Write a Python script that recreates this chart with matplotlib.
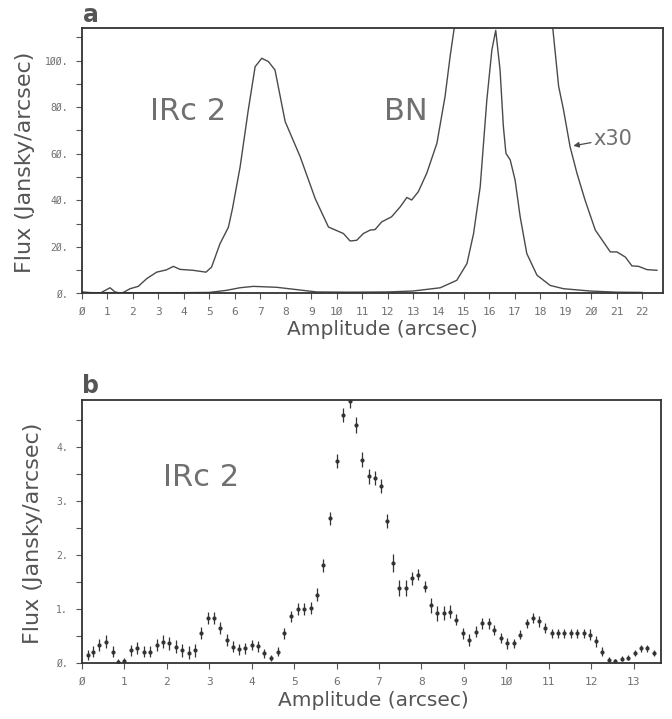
import matplotlib.pyplot as plt
import numpy as np

# panel a: x30 curve (IRc 2 scaled), breaks where it runs off the top
xa_scaled = [0.0, 0.7, 1.1, 1.3, 1.56, 1.89, 2.21, 2.54, 2.93, 3.32, 3.59, 3.85, 4.37, 4.87,
             5.09, 5.42, 5.75, 5.91, 6.21, 6.53, 6.80, 7.06, 7.32, 7.58, 7.98, 8.57, 9.16,
             9.68, 10.27, 10.53, 10.79, 11.05, 11.32, 11.51, 11.77, 12.16, 12.50, 12.76,
             12.95, 13.21, 13.54, 13.94, 14.26, 14.46, 14.62, 14.70,
             np.nan,
             18.42, 18.49, 18.72, 18.91, 19.17, 19.44, 19.76, 20.16, 20.75, 21.01, 21.34,
             21.60, 21.86, 22.19, 22.58]
ya_scaled = [0.6, 0.0, 2.4, 0.6, 0.0, 2.0, 3.0, 6.3, 9.1, 10.1, 11.6, 10.3, 9.9, 9.1,
             11.3, 21.3, 28.4, 36.4, 54.3, 78.7, 97.4, 101.0, 99.6, 96.0, 73.8, 58.7, 40.7,
             28.5, 25.7, 22.5, 22.8, 25.7, 27.2, 27.4, 30.7, 32.9, 37.2, 41.2,
             40.1, 43.7, 51.6, 64.5, 84.6, 101.9, 114.0, 120.0,
             np.nan,
             120.0, 114.0, 89.0, 79.0, 63.0, 51.6, 40.0, 27.2, 17.8, 17.8, 15.6,
             11.8, 11.6, 10.2, 9.9]

# panel a: unscaled curve (BN peak)
xa_raw = [0.0, 2.0, 4.0, 5.0, 5.68, 6.2, 6.73, 7.65, 8.2, 9.22, 10.5, 12.0, 13.0, 14.07,
          14.72, 15.12, 15.38, 15.64, 15.90, 16.10, 16.25, 16.42, 16.55, 16.65, 16.82,
          17.01, 17.21, 17.47, 17.87, 18.39, 18.91, 19.96, 21.0, 22.0]
ya_raw = [0.3, 0.3, 0.3, 0.4, 1.3, 2.4, 3.0, 2.6, 1.9, 0.6, 0.5, 0.6, 1.0, 2.4,
          5.6, 12.8, 25.7, 45.8, 83.0, 104.7, 113.0, 96.0, 71.7, 60.2, 57.3,
          48.7, 32.9, 17.1, 7.8, 3.4, 2.0, 1.0, 0.5, 0.4]

# panel b: IRc 2 profile with errors
xb = [0.13, 0.27, 0.41, 0.57, 0.72, 0.86, 0.99, 1.16, 1.30, 1.46, 1.60, 1.76, 1.90, 2.06,
      2.22, 2.36, 2.52, 2.66, 2.81, 2.96, 3.11, 3.25, 3.41, 3.55, 3.70, 3.85, 4.00, 4.14,
      4.29, 4.45, 4.62, 4.76, 4.93, 5.09, 5.24, 5.39, 5.53, 5.69, 5.85, 6.00, 6.16, 6.32,
      6.46, 6.61, 6.76, 6.90, 7.05, 7.19, 7.33, 7.48, 7.63, 7.78, 7.92, 8.08, 8.22, 8.37,
      8.52, 8.67, 8.82, 8.97, 9.12, 9.28, 9.43, 9.58, 9.72, 9.87, 10.02, 10.17, 10.32,
      10.48, 10.63, 10.78, 10.92, 11.07, 11.22, 11.37, 11.52, 11.67, 11.82, 11.96, 12.12,
      12.26, 12.42, 12.57, 12.72, 12.87, 13.02, 13.17, 13.32, 13.47]
yb = [0.15, 0.21, 0.33, 0.39, 0.21, 0.02, 0.03, 0.23, 0.27, 0.21, 0.21, 0.33, 0.39, 0.36,
      0.30, 0.23, 0.19, 0.23, 0.55, 0.83, 0.83, 0.64, 0.43, 0.30, 0.25, 0.27, 0.33, 0.31,
      0.18, 0.09, 0.21, 0.55, 0.86, 0.99, 0.99, 1.01, 1.26, 1.81, 2.68, 3.73, 4.59, 4.84,
      4.41, 3.76, 3.45, 3.42, 3.27, 2.62, 1.85, 1.38, 1.38, 1.57, 1.63, 1.41, 1.07, 0.92,
      0.92, 0.95, 0.80, 0.55, 0.43, 0.58, 0.73, 0.73, 0.61, 0.46, 0.36, 0.36, 0.52,
      0.73, 0.83, 0.77, 0.64, 0.55, 0.55, 0.55, 0.55, 0.55, 0.55, 0.52, 0.40,
      0.21, 0.06, 0.04, 0.08, 0.10, 0.18, 0.27, 0.27, 0.18]
eb = [0.09, 0.10, 0.11, 0.12, 0.10, 0.06, 0.06, 0.10, 0.11, 0.10, 0.10, 0.11, 0.12, 0.12,
      0.12, 0.12, 0.12, 0.12, 0.11, 0.11, 0.11, 0.11, 0.11, 0.10, 0.10, 0.10, 0.10, 0.10,
      0.08, 0.06, 0.09, 0.10, 0.11, 0.11, 0.11, 0.11, 0.12, 0.12, 0.12, 0.13, 0.13, 0.12,
      0.15, 0.14, 0.13, 0.13, 0.13, 0.13, 0.16, 0.15, 0.15, 0.12, 0.10, 0.10, 0.14, 0.14,
      0.13, 0.12, 0.10, 0.10, 0.11, 0.10, 0.10, 0.10, 0.10, 0.10, 0.10, 0.09, 0.08,
      0.09, 0.10, 0.10, 0.09, 0.08, 0.08, 0.08, 0.08, 0.08, 0.08, 0.10, 0.10,
      0.09, 0.05, 0.04, 0.05, 0.05, 0.05, 0.07, 0.07, 0.05]

a_yticks = [0, 20, 40, 60, 80, 100]
a_ylabels = ['Ø.', '2Ø.', '4Ø.', '6Ø.', '8Ø.', '1ØØ.']
a_xticks = list(range(0, 23))
a_xlabels = [str(i).replace('0', 'Ø') for i in a_xticks]
b_yticks = [0, 1, 2, 3, 4]
b_ylabels = ['Ø.', '1.', '2.', '3.', '4.']
b_xticks = list(range(0, 14))
b_xlabels = [str(i).replace('0', 'Ø') for i in b_xticks]

ink = '#4a4a4a'
txt = '#707070'

fig = plt.figure(figsize=(6.72, 7.19), dpi=100)
ax1 = fig.add_axes([0.122, 0.592, 0.865, 0.369])
ax2 = fig.add_axes([0.122, 0.078, 0.862, 0.366])

def style(ax, xticks, xlabels, yticks, ylabels, yminor):
    for s in ax.spines.values():
        s.set_color('#333333')
        s.set_linewidth(1.3)
    ax.set_xticks(xticks)
    ax.set_xticklabels(xlabels, family='DejaVu Sans Mono', fontsize=8, color=txt)
    ax.set_yticks(yticks)
    ax.set_yticklabels(ylabels, family='DejaVu Sans Mono', fontsize=7, color=txt)
    ax.set_yticks(yminor, minor=True)
    ax.tick_params(direction='out', length=4, width=0.8, color='#555555', pad=6)
    ax.tick_params(which='minor', direction='out', length=4, width=0.8, color='#555555')
    ax.set_xlabel('Amplitude (arcsec)', fontsize=14.5, color='#555555')
    ax.set_ylabel('Flux (Jansky/arcsec)', fontsize=16, color='#555555')

# panel a
ax1.plot(xa_scaled, ya_scaled, color=ink, lw=1.0)
ax1.plot(xa_raw, ya_raw, color=ink, lw=1.0)
ax1.set_xlim(0, 22.83)
ax1.set_ylim(0, 114)
style(ax1, a_xticks, a_xlabels, a_yticks, a_ylabels, [10, 30, 50, 70, 90, 110])
ax1.xaxis.set_label_coords(0.516, -0.100)
ax1.yaxis.set_label_coords(-0.080, 0.494)
ax1.text(4.15, 78, 'IRc 2', fontsize=22, color=txt, ha='center', va='center')
ax1.text(12.7, 78, 'BN', fontsize=22, color=txt, ha='center', va='center')
ax1.annotate('x30', xy=(19.3, 63.4), xytext=(20.1, 66.5), fontsize=15, color=txt,
             va='center', ha='left',
             arrowprops=dict(arrowstyle='-|>', color=ink, lw=0.9, mutation_scale=8,
                             shrinkA=0, shrinkB=0))

# panel b
ax2.errorbar(xb, yb, yerr=eb, fmt='o', ms=2, color='#333333', ecolor='#333333',
             elinewidth=0.9, capsize=0)
ax2.set_xlim(0, 13.65)
ax2.set_ylim(0, 4.87)
style(ax2, b_xticks, b_xlabels, b_yticks, b_ylabels, [0.5, 1.5, 2.5, 3.5, 4.5])
ax2.xaxis.set_label_coords(0.503, -0.108)
ax2.yaxis.set_label_coords(-0.068, 0.494)
ax2.text(2.8, 3.44, 'IRc 2', fontsize=22, color=txt, ha='center', va='center')

fig.text(0.123, 1 - 22 / 719, 'a', fontsize=17, fontweight='bold', color='#555555',
         va='baseline')
fig.text(0.122, 1 - 393 / 719, 'b', fontsize=17, fontweight='bold', color='#555555',
         va='baseline')

fig.savefig('out.png', dpi=100)
